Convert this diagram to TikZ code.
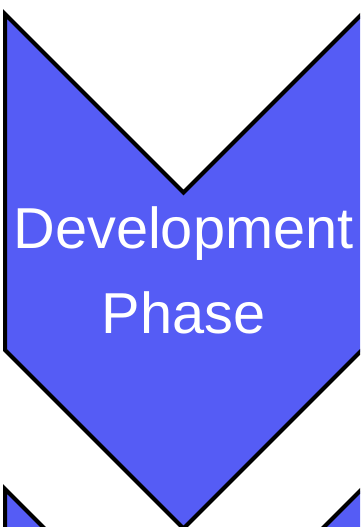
\documentclass[tikz,border=0pt]{standalone}
\usepackage{fontspec}
\setmainfont{Liberation Sans}
\begin{document}
\begin{tikzpicture}[x=0.75pt,y=0.75pt,yscale=-1,xscale=1]
%set diagram left start at 0, and has height of 527
\useasboundingbox (0,0) rectangle (360,527);
\clip (0,0) rectangle (360,527);

%Shape: Chevron [id:dp1] 
\draw  [color={rgb, 255:red, 0; green, 0; blue, 0 }  ,draw opacity=1 ][fill={rgb, 255:red, 85; green, 92; blue, 245 }  ,fill opacity=1 ][line width=3]  (5,14) -- (183.5,192.5) -- (370,6) -- (370,342) -- (183.5,528.5) -- (5,350) -- cycle ;

%Shape: Chevron [id:dp2] 
\draw  [color={rgb, 255:red, 0; green, 0; blue, 0 }  ,draw opacity=1 ][fill={rgb, 255:red, 85; green, 92; blue, 245 }  ,fill opacity=1 ][line width=3]  (5,489) -- (183.5,667.5) -- (370,481) -- (370,817) -- (183.5,1003.5) -- (5,825) -- cycle ;

% Text Node
\draw (183.5,248) node [anchor=base, text=white, font=\fontsize{43.3}{50}\selectfont] (devline)  {Development};
% Text Node
\draw (183.5,333) node [anchor=base, text=white, font=\fontsize{43.3}{50}\selectfont] (phaseline)  {Phase};

\end{tikzpicture}
\end{document}
